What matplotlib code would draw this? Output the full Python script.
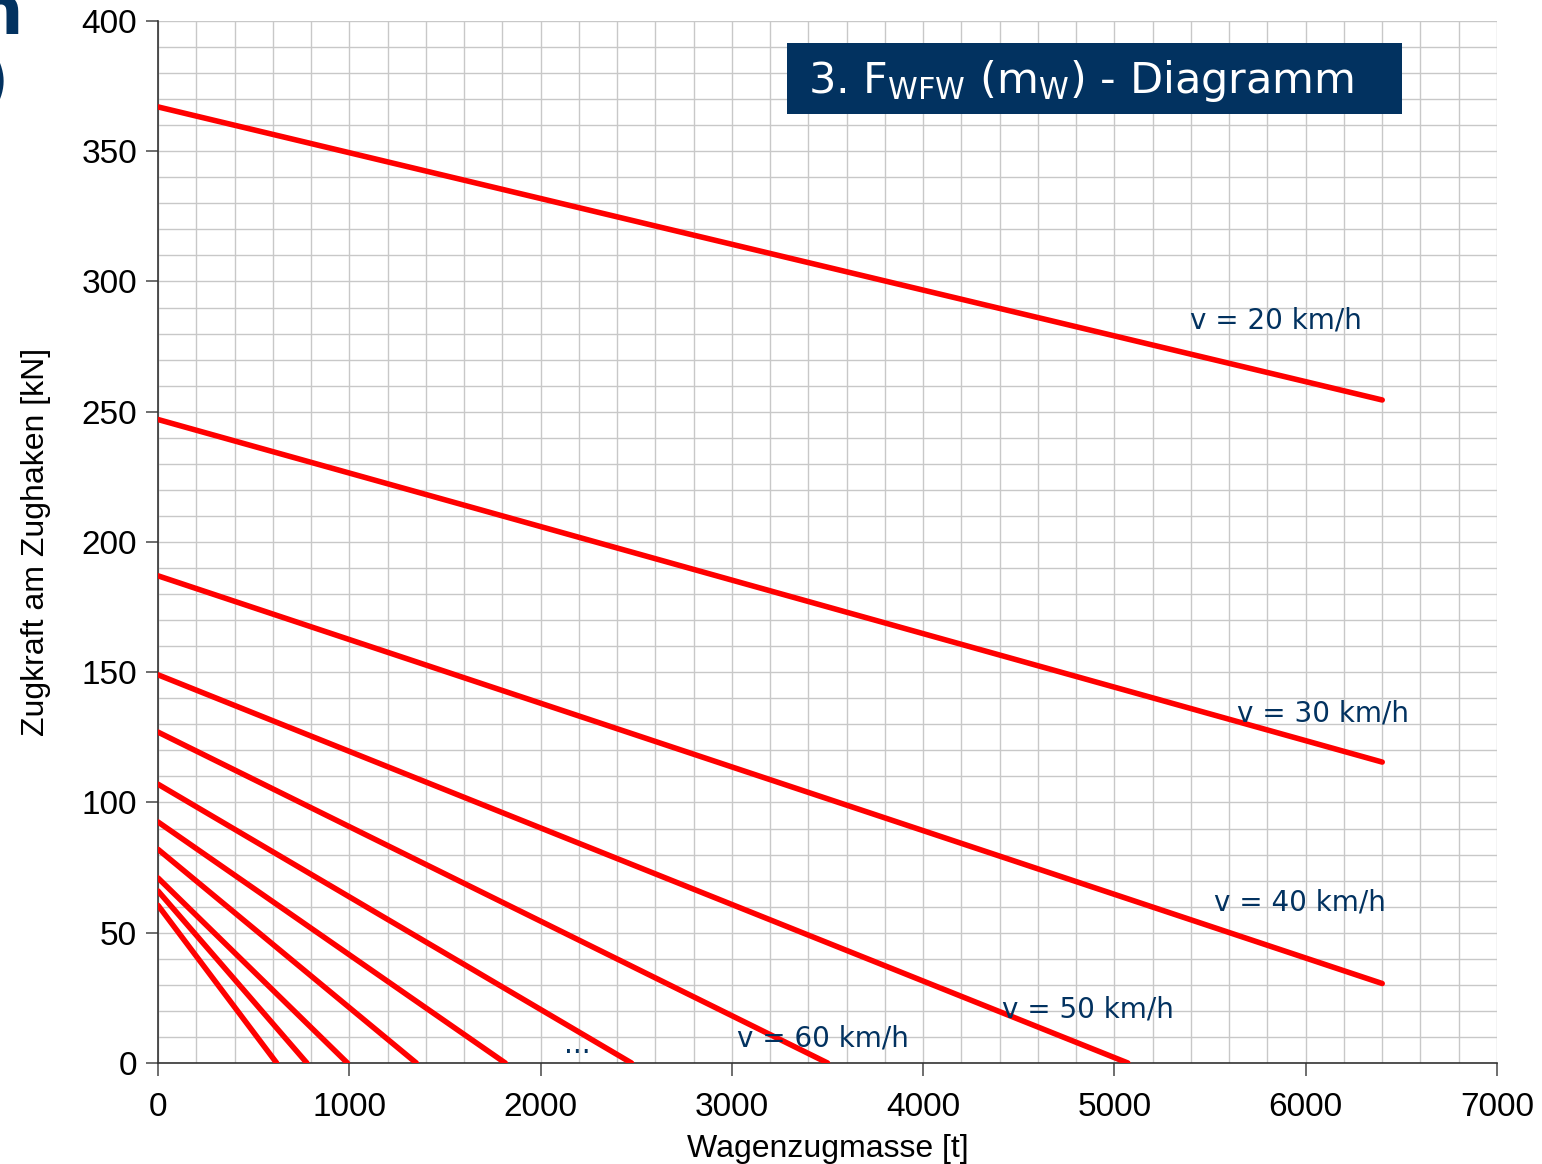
import matplotlib.pyplot as plt
from matplotlib.patches import Rectangle
import numpy as np

# Zugkraft-Geraden je Geschwindigkeit: Startwert bei m=0, Endpunkt (m, F)
f_start = [367, 247, 187, 149, 127, 107, 92.5, 82, 71, 66, 60.5]
m_end = [6400, 6400, 6400, 5070, 3500, 2475, 1815, 1350, 990, 778, 620]
f_end = [254.5, 115.5, 30.5, 0, 0, 0, 0, 0, 0, 0, 0]

labels = ["v = 20 km/h", "v = 30 km/h", "v = 40 km/h", "v = 50 km/h", "v = 60 km/h", "..."]
label_x = [5395, 5640, 5520, 4412, 3027, 2120]
label_y = [285, 134, 61.5, 20.7, 9.2, 7]

blue = "#023260"

fig = plt.figure(figsize=(15.42, 11.64), dpi=100)
ax = fig.add_axes([0.1025, 0.0868, 0.8683, 0.8952])

for i in range(len(f_start)):
    ax.plot([0, m_end[i]], [f_start[i], f_end[i]], color="#ff0000", lw=4.0,
            solid_capstyle="round", zorder=3)

for t, x, y in zip(labels, label_x, label_y):
    ax.text(x, y, t, color=blue, fontsize=20, family="DejaVu Sans",
            va="center", ha="left", zorder=4)

ax.set_xlim(0, 7000)
ax.set_ylim(0, 400)
ax.set_xticks(np.arange(0, 7001, 1000))
ax.set_yticks(np.arange(0, 401, 50))
ax.set_xticks(np.arange(0, 7001, 200), minor=True)
ax.set_yticks(np.arange(0, 401, 10), minor=True)
ax.grid(which="both", color="#c8c8c8", lw=1.0, zorder=0)
ax.tick_params(which="minor", length=0)
ax.tick_params(which="major", length=9, width=1.2, color="#555555",
               labelsize=24, pad=6)
ax.tick_params(axis="x", which="major", pad=12)
for lab in ax.get_xticklabels() + ax.get_yticklabels():
    lab.set_family("Liberation Sans")
for s in ["top", "right"]:
    ax.spines[s].set_visible(False)
for s in ["left", "bottom"]:
    ax.spines[s].set_color("#333333")
    ax.spines[s].set_linewidth(1.2)

ax.set_xlabel("Wagenzugmasse [t]", fontsize=23, family="Liberation Sans", labelpad=8)
ax.set_ylabel("Zugkraft am Zughaken [kN]", fontsize=23, family="Liberation Sans", labelpad=22)

# Titelkasten
ax.add_patch(Rectangle((3290, 364.3), 3213, 27.3, fc=blue, ec="none", zorder=5))
ax.text(3398, 376.8, "3. F$_{\\mathregular{WFW}}$ (m$_{\\mathregular{W}}$) - Diagramm",
        color="white", fontsize=31, family="DejaVu Sans", va="center", ha="left",
        zorder=6)

# abgeschnittene Titelreste am Rand
fig.text(23 / 1542, 1 - 34 / 1164, "n", color=blue, fontsize=48, weight="bold",
         ha="right", va="baseline")
fig.text(9 / 1542, 1 - 84 / 1164, ")", color=blue, fontsize=48, weight="bold",
         ha="right", va="center")

fig.savefig("out.png", dpi=100)
